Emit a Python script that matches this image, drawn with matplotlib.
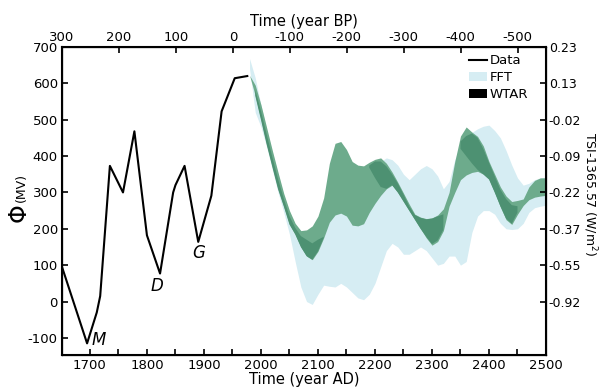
import numpy as np
import matplotlib
matplotlib.use("Agg")
import matplotlib.pyplot as plt
from matplotlib.lines import Line2D
from matplotlib.patches import Patch

plt.rcParams['font.family'] = ['DejaVu Sans']
plt.rcParams['axes.unicode_minus'] = False

# Observed modulation potential (Data)
data_years = [1650, 1695, 1712, 1718, 1735, 1758, 1778, 1800, 1823, 1846, 1850,
              1866, 1890, 1913, 1931, 1954, 1976]
data_phi = [100, -115, -30, 15, 373, 300, 468, 182, 77, 300, 320,
            373, 164, 291, 523, 614, 620]

# Forecast bands (year grid)
band_years = list(range(1980, 2501, 10))

wtar_hi = [622, 595, 541, 478, 415, 355, 297, 250, 215, 195, 197, 208, 235, 285,
           380, 435, 440, 418, 385, 375, 373, 383, 391, 395, 380, 356, 328, 298,
           268, 240, 232, 228, 230, 238, 255, 300, 385, 455, 480, 466, 454, 428,
           385, 350, 315, 290, 275, 278, 282, 315, 333, 340, 340]
wtar_lo = [622, 566, 500, 432, 370, 309, 262, 212, 185, 150, 125, 115, 138, 175,
           218, 238, 243, 235, 210, 208, 214, 245, 270, 292, 310, 320, 300, 275,
           250, 225, 200, 175, 155, 165, 195, 262, 300, 335, 348, 355, 358, 350,
           336, 300, 260, 225, 212, 240, 264, 280, 287, 290, 292]

nan = np.nan
# overlap of WTAR ensembles (darker green)
wtar_ov_lo = [nan, 566, 500, 432, 370, 309, 262, 212, 185, 150, 125, 115, 138, 175,
              nan, nan, nan, nan, nan, nan, nan, 368, 340, 315, 310, 320, 300, 275,
              250, 225, 200, 178, 158, 168, 198, nan, nan, 420, 400, 380, 362, 350,
              336, 300, 262, 228, 214, 245, nan, nan, nan, nan, nan]
wtar_ov_hi = [nan, 582, 524, 460, 397, 337, 283, 235, 203, 180, 170, 160, 170, 178,
              nan, nan, nan, nan, nan, nan, nan, 374, 385, 385, 372, 350, 325, 295,
              262, 238, 230, 226, 228, 234, 240, nan, nan, 440, 455, 462, 450, 420,
              382, 345, 308, 282, 265, 262, nan, nan, nan, nan, nan]

fft_hi = [668, 615, 540, 470, 410, 350, 292, 245, 210, 185, 185, 195, 225, 270,
          330, 370, 380, 370, 350, 345, 350, 360, 370, 385, 395, 390, 375, 350,
          335, 350, 365, 374, 365, 345, 310, 330, 390, 430, 450, 465, 475, 482,
          485, 470, 450, 415, 375, 340, 320, 325, 335, 340, 342]
fft_lo = [640, 520, 480, 425, 362, 300, 245, 185, 110, 40, 0, -8, 20, 45,
          42, 40, 50, 40, 25, 10, 5, 20, 50, 95, 140, 160, 150, 130,
          130, 140, 150, 140, 120, 100, 105, 125, 125, 100, 110, 190, 235, 250,
          250, 240, 215, 200, 198, 200, 215, 245, 258, 262, 265]

left_ticks = [-100, 0, 100, 200, 300, 400, 500, 600, 700]
right_labels = ['-0.92', '-0.55', '-0.37', '-0.22', '-0.09', '-0.02', '0.13', '0.23']
right_ticks = [0, 100, 200, 300, 400, 500, 600, 700]
top_labels = ['300', '200', '100', '0', '-100', '-200', '-300', '-400', '-500']
top_ticks_ad = [1650, 1750, 1850, 1950, 2050, 2150, 2250, 2350, 2450]

fig = plt.figure(figsize=(5.99, 3.88), dpi=100)
ax = fig.add_axes([0.1035, 0.086, 0.808, 0.793])

by = np.array(band_years)
ax.fill_between(by, fft_lo, fft_hi, color='#d6edf3', lw=0, zorder=1)
ax.fill_between(by, wtar_lo, wtar_hi, color='#6dab8c', lw=0, zorder=2)
ov_lo = np.array(wtar_ov_lo, dtype=float)
ov_hi = np.array(wtar_ov_hi, dtype=float)
ax.fill_between(by, ov_lo, ov_hi, where=~np.isnan(ov_lo), color='#4d9172',
                lw=0, zorder=3)
ax.plot(data_years, data_phi, color='black', lw=1.5, zorder=4)

for lab, x, y in [('M', 1716, -105), ('D', 1818, 43), ('G', 1891, 134)]:
    ax.text(x, y, lab, style='italic', fontsize=12, ha='center', va='center')

ax.set_xlim(1651, 2500)
ax.set_ylim(-146, 700)
ax.set_yticks(left_ticks)
ax.set_xticks(range(1700, 2501, 50))
ax.set_xticklabels([str(v) if v % 100 == 0 else '' for v in range(1700, 2501, 50)])
ax.tick_params(direction='in', length=4, width=1.2, labelsize=9.5, pad=3)
for s in ax.spines.values():
    s.set_linewidth(1.5)
ax.set_xlabel('Time (year AD)', fontsize=10.5, labelpad=0)

axr = ax.twinx()
axr.set_ylim(ax.get_ylim())
axr.set_yticks(right_ticks)
axr.set_yticklabels(right_labels)
axr.tick_params(direction='in', length=4, width=1.2, labelsize=9, pad=2)

axt = ax.twiny()
axt.set_xlim(ax.get_xlim())
axt.set_xticks(top_ticks_ad)
axt.set_xticklabels(top_labels)
axt.tick_params(direction='in', length=4, width=1.2, labelsize=9.5, pad=2)
axt.set_xlabel('Time (year BP)', fontsize=10.5, labelpad=3.5)

fig.text(0.985, 0.50, 'TSI-1365.57 (W/m$^2$)', rotation=270, fontsize=9,
         ha='center', va='center')
fig.text(0.033, 0.448, r'$\Phi$', rotation=90, fontsize=17, ha='center', va='center')
fig.text(0.036, 0.518, '(MV)', rotation=90, fontsize=9, ha='center', va='center')

handles = [Line2D([0], [0], color='black', lw=1.5),
           Patch(facecolor='#d6edf3', edgecolor='none'),
           Patch(facecolor='black', edgecolor='none')]
ax.legend(handles, ['Data', 'FFT', 'WTAR'], loc='upper right', frameon=False,
          fontsize=9.5, handlelength=1.4, handletextpad=0.2, labelspacing=0.3,
          borderaxespad=0.4, bbox_to_anchor=(0.985, 1.01))

fig.savefig('out.png', dpi=100)
